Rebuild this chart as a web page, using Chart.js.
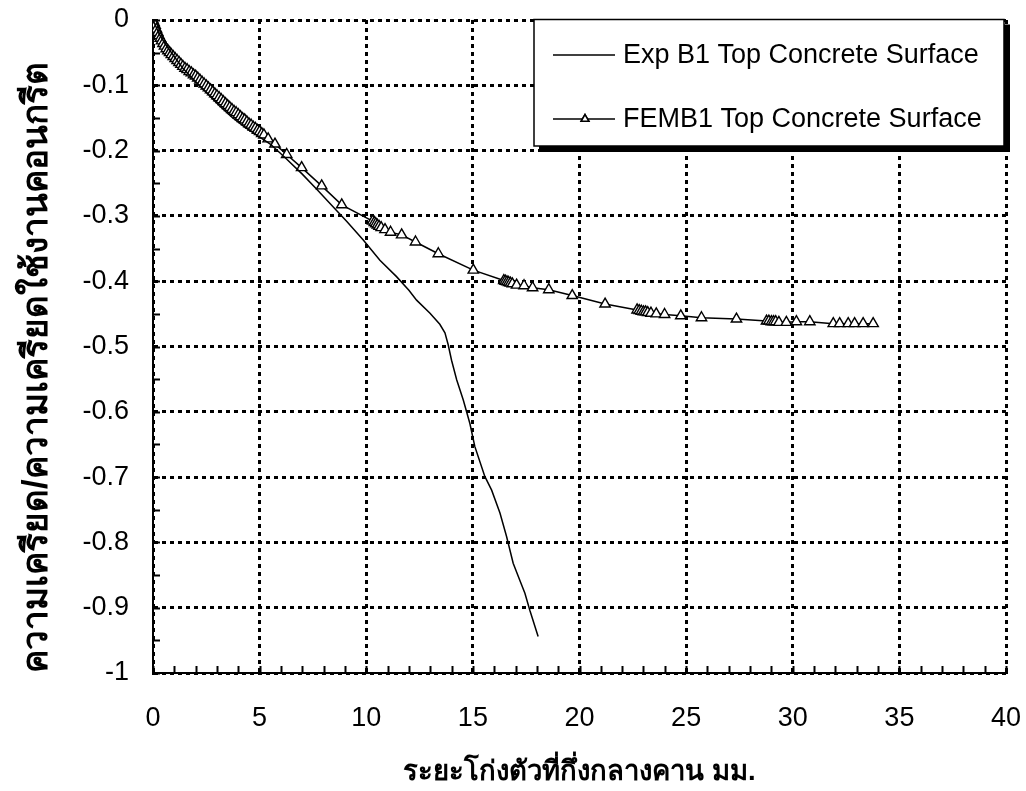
<!DOCTYPE html>
<html>
<head>
<meta charset="utf-8">
<script src="https://cdn.jsdelivr.net/npm/chart.js@4.4.0/dist/chart.umd.min.js"></script>
<style>
  html, body { margin: 0; padding: 0; background: #fff; }
  #wrap { width: 1026px; height: 791px; }
</style>
</head>
<body>
<div id="wrap"><canvas id="chart"></canvas></div>
<script>
// ค่าที่อ่านจากกราฟ: ระยะโก่ง (มม.) กับอัตราส่วนความเครียด

const xTitle = 'ระยะโก่งตัวที่กึ่งกลางคาน มม.';
const yTitle = 'ความเครียด/ความเครียดใช้งานคอนกรีต';
const seriesLabels = ['Exp B1 Top Concrete Surface', 'FEMB1 Top Concrete Surface'];

// Exp B1 (เส้นทึบ ไม่มีจุด)
const expX = [0, 0.3, 0.6, 1.0, 1.4, 1.9, 2.5, 3.1, 3.7, 4.3, 4.9, 5.5, 6.2, 7.0, 7.7, 8.3,
  9.1, 9.86, 10.64, 11.42, 12.0, 12.36, 12.99, 13.45, 13.69, 13.84, 14.0, 14.24, 14.55,
  14.86, 15.09, 15.56, 15.88, 16.27, 16.58, 16.89, 17.2, 17.44, 17.67, 18.06];
const expY = [0, -0.022, -0.038, -0.056, -0.074, -0.091, -0.111, -0.131, -0.149, -0.164, -0.177,
  -0.19, -0.211, -0.236, -0.26, -0.281, -0.309, -0.337, -0.368, -0.393, -0.414, -0.429,
  -0.449, -0.466, -0.479, -0.497, -0.521, -0.551, -0.582, -0.618, -0.653, -0.699, -0.72,
  -0.755, -0.791, -0.832, -0.858, -0.878, -0.904, -0.944];

// FEMB1 (เส้น + สามเหลี่ยม)
const femX = [0, 0.05, 0.1, 0.16, 0.22, 0.28, 0.34, 0.4, 0.47, 0.54, 0.62, 0.7, 0.78, 0.86,
  0.95, 1.04, 1.13, 1.22, 1.31, 1.4, 1.5, 1.6, 1.7, 1.8, 1.9, 2.0, 2.1, 2.2, 2.3, 2.4, 2.5,
  2.6, 2.7, 2.8, 2.9, 3.0, 3.1, 3.2, 3.3, 3.4, 3.5, 3.6, 3.7, 3.8, 3.9, 4.0, 4.1, 4.2, 4.3,
  4.4, 4.5, 4.6, 4.7, 4.8, 4.9, 5.0, 5.1, 5.2, 5.4, 5.72,
  6.27, 6.97, 7.91, 8.85, 10.3, 10.38, 10.45, 10.52, 10.6, 10.7, 10.88, 11.14, 11.66, 12.31,
  13.38, 15.02, 16.45, 16.52, 16.6, 16.68, 16.76, 16.85, 17.05, 17.4, 17.8, 18.56, 19.66,
  21.2, 22.7, 22.8, 22.9, 23.0, 23.1, 23.2, 23.35, 23.6, 23.99, 24.75, 25.72, 27.36, 28.77,
  28.88, 29.0, 29.1, 29.2, 29.35, 29.7, 30.17, 30.8, 31.9, 32.2, 32.6, 32.9, 33.3, 33.77];
const femY = [0, -0.004, -0.008, -0.014, -0.019, -0.024, -0.028, -0.032, -0.036, -0.04, -0.044,
  -0.047, -0.05, -0.053, -0.056, -0.059, -0.062, -0.065, -0.068, -0.071, -0.074, -0.076,
  -0.079, -0.081, -0.084, -0.086, -0.089, -0.092, -0.095, -0.098, -0.101, -0.104, -0.107,
  -0.11, -0.113, -0.116, -0.119, -0.122, -0.125, -0.128, -0.131, -0.134, -0.137, -0.14,
  -0.142, -0.145, -0.148, -0.151, -0.153, -0.156, -0.159, -0.161, -0.164, -0.166, -0.169,
  -0.171, -0.174, -0.176, -0.182, -0.19,
  -0.206, -0.226, -0.254, -0.283, -0.308, -0.31, -0.312, -0.314, -0.316, -0.318,
  -0.321, -0.325, -0.329, -0.34, -0.358, -0.383, -0.399, -0.4, -0.401, -0.402, -0.403,
  -0.404, -0.406, -0.407, -0.41, -0.413, -0.422, -0.435, -0.444, -0.445, -0.446, -0.447,
  -0.447, -0.448, -0.449, -0.45, -0.451, -0.453, -0.456, -0.458, -0.461, -0.461, -0.462,
  -0.462, -0.462, -0.463, -0.463, -0.462, -0.462, -0.465, -0.465, -0.465, -0.465, -0.465,
  -0.465];

// แกน
const xMin = 0, xMax = 40, xStep = 1, xMajor = 5;
const yMin = -1, yMax = 0, yStep = 0.05;

const FONT = 'Arial, "Liberation Sans", sans-serif';

const toPoints = (xs, ys) => xs.map((x, i) => ({ x, y: ys[i] }));

// กำหนดขนาดแกนเอง และไม่ให้ label ดันขอบพื้นที่กราฟ
const fixAxis = (size) => s => {
    if (s.isHorizontal()) s.height = size; else s.width = size;
    s.paddingTop = s.paddingBottom = s.paddingLeft = s.paddingRight = 0;
};

// tick เล็กชี้เข้าด้านใน + กล่อง legend แบบ Excel
const excelDecor = {
    id: 'excelDecor',
    afterDraw(chart) {
        const { ctx, chartArea: a, scales } = chart;
        ctx.save();
        ctx.strokeStyle = '#000';
        ctx.lineWidth = 2;
        ctx.beginPath();
        scales.x.ticks.forEach(t => {
            const px = Math.round(scales.x.getPixelForValue(t.value)) + 0.5;
            ctx.moveTo(px, a.bottom);
            ctx.lineTo(px, a.bottom - 7);
        });
        scales.y.ticks.forEach(t => {
            const py = Math.round(scales.y.getPixelForValue(t.value)) + 0.5;
            ctx.moveTo(a.left, py);
            ctx.lineTo(a.left + 7, py);
        });
        ctx.stroke();

        // legend
        const box = { l: 534, t: 19.5, r: 1004, b: 146 };
        ctx.fillStyle = '#000';
        ctx.fillRect(box.l + 5, box.t + 5, box.r - box.l + 1, box.b - box.t + 1);
        ctx.fillStyle = '#fff';
        ctx.fillRect(box.l, box.t, box.r - box.l, box.b - box.t);
        ctx.lineWidth = 1.5;
        ctx.strokeRect(box.l, box.t, box.r - box.l, box.b - box.t);

        const rows = [55, 119];
        ctx.font = '27px ' + FONT;
        ctx.textBaseline = 'middle';
        ctx.fillStyle = '#000';
        chart.data.datasets.forEach((ds, i) => {
            const y = rows[i];
            ctx.lineWidth = 1.5;
            ctx.beginPath();
            ctx.moveTo(553, y);
            ctx.lineTo(615, y);
            ctx.stroke();
            if (ds.pointRadius) {
                Chart.helpers.drawPoint(ctx, {
                    pointStyle: 'triangle', radius: 4.5, borderWidth: 1.3
                }, 585, y);
                ctx.fillStyle = '#fff';
                ctx.fill();
                ctx.stroke();
                ctx.fillStyle = '#000';
            }
            ctx.fillText(ds.label, 623, y + 1);
        });
        ctx.restore();
    }
};

const isMajorX = v => Math.round(v) % xMajor === 0;
const isMajorY = v => Math.round(v * 100) % 10 === 0;

new Chart(document.getElementById('chart'), {
    type: 'line',
    data: {
        datasets: [
            {
                label: seriesLabels[0],
                data: toPoints(expX, expY),
                borderColor: '#000',
                borderWidth: 1.5,
                pointRadius: 0,
                tension: 0
            },
            {
                label: seriesLabels[1],
                data: toPoints(femX, femY),
                borderColor: '#000',
                borderWidth: 1.5,
                pointStyle: 'triangle',
                pointRadius: 6,
                pointBorderWidth: 1.4,
                pointBackgroundColor: '#fff',
                pointBorderColor: '#000',
                tension: 0
            }
        ]
    },
    options: {
        responsive: true,
        maintainAspectRatio: false,
        animation: false,
        layout: { padding: { top: 20, right: 20, left: 0, bottom: 0 } },
        plugins: {
            legend: { display: false },
            tooltip: { enabled: false }
        },
        scales: {
            x: {
                type: 'linear',
                min: xMin,
                max: xMax,
                afterFit: fixAxis(118),
                ticks: {
                    stepSize: xStep,
                    autoSkip: false,
                    maxRotation: 0,
                    color: '#000',
                    padding: 29,
                    font: { family: FONT, size: 27 },
                    callback: v => isMajorX(v) ? String(v) : ''
                },
                grid: {
                    drawTicks: false,
                    color: c => isMajorX(c.tick.value) ? '#000' : 'transparent',
                    lineWidth: 3
                },
                border: { display: true, color: '#000', width: 2, dash: [4, 4] },
                title: {
                    display: true,
                    text: xTitle,
                    color: '#000',
                    font: { family: FONT, size: 27.5, weight: 'bold' },
                    padding: { top: 0, bottom: 2 }
                }
            },
            y: {
                type: 'linear',
                min: yMin,
                max: yMax,
                afterFit: fixAxis(153),
                ticks: {
                    stepSize: yStep,
                    autoSkip: false,
                    color: '#000',
                    padding: 24,
                    font: { family: FONT, size: 27 },
                    callback: v => {
                        const r = Math.round(v * 100);
                        if (r % 10 !== 0) return '';
                        if (r === 0) return '0';
                        if (r === -100) return '-1';
                        return (r / 100).toFixed(1);
                    }
                },
                grid: {
                    drawTicks: false,
                    color: c => isMajorY(c.tick.value) ? '#000' : 'transparent',
                    lineWidth: 3
                },
                border: { display: true, color: '#000', width: 2, dash: [4, 4] },
                title: {
                    display: true,
                    text: yTitle,
                    align: 'start',
                    color: '#000',
                    font: { family: FONT, size: 35, weight: 'bold' },
                    padding: { top: 16, bottom: 0 }
                }
            }
        }
    },
    plugins: [excelDecor]
});
</script>
</body>
</html>
